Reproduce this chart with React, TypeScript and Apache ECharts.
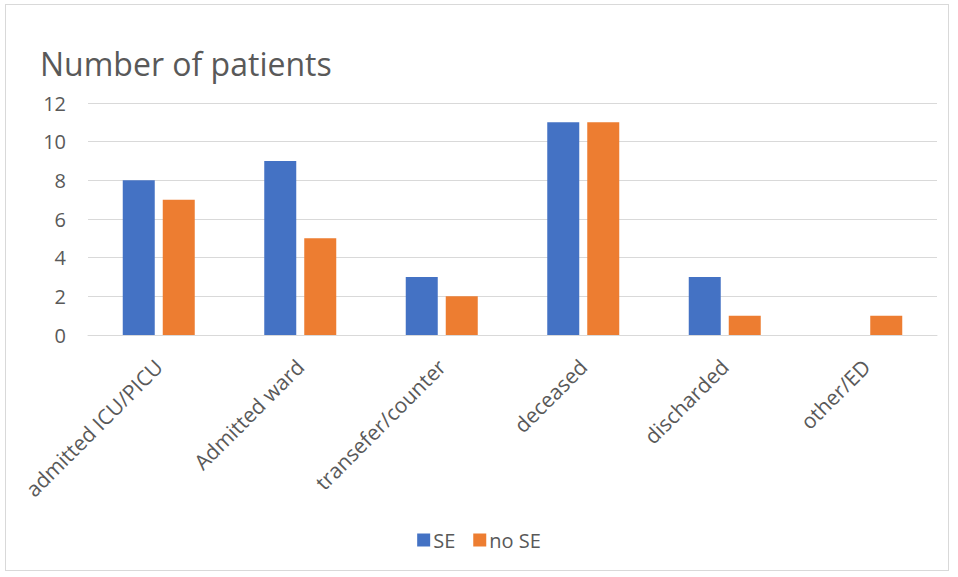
import React, { useEffect, useRef } from "react";
import * as echarts from "echarts";

const categories = ["admitted ICU/PICU", "Admitted ward", "transefer/counter", "deceased", "discharded", "other/ED"];
const seValues = [8, 9, 3, 11, 3, 0];
const noSeValues = [7, 5, 2, 11, 1, 1];
const seriesNames = ["SE", "no SE"];
const chartTitle = "Number of patients";

const FONT = "'Open Sans', sans-serif";
const TXT = "#595959";

export default function App() {
  const ref = useRef<HTMLDivElement>(null);
  useEffect(() => {
    document.body.style.margin = "0";
    const chart = echarts.init(ref.current!, null, { renderer: "svg" });
    chart.setOption({
      animation: false,
      backgroundColor: "#ffffff",
      title: {
        text: chartTitle,
        left: 35,
        top: 42,
        textStyle: { fontFamily: FONT, fontSize: 32, fontWeight: "normal", color: TXT },
      },
      grid: { left: 88, right: 21, top: 103, bottom: 242, containLabel: false },
      legend: {
        data: seriesNames,
        bottom: 22,
        left: "center",
        icon: "rect",
        itemWidth: 13,
        itemHeight: 13,
        itemGap: 18,
        itemStyle: { borderWidth: 0 },
        textStyle: { fontFamily: FONT, fontSize: 20, color: TXT, padding: [0, 0, 0, -2] },
      },
      xAxis: {
        type: "category",
        data: categories,
        axisLine: { lineStyle: { color: "#d9d9d9", width: 1 } },
        axisTick: { show: false },
        axisLabel: { rotate: 45, margin: 28, fontFamily: FONT, fontSize: 21, color: TXT, interval: 0 },
      },
      yAxis: {
        type: "value",
        min: 0,
        max: 12,
        interval: 2,
        axisLine: { show: false },
        axisTick: { show: false },
        splitLine: { lineStyle: { color: "#d9d9d9", width: 1 } },
        axisLabel: { margin: 22, fontFamily: FONT, fontSize: 20, color: TXT },
      },
      series: [
        {
          name: seriesNames[0],
          type: "bar",
          data: seValues,
          barWidth: 32,
          barGap: "25%",
          itemStyle: { color: "#4472C4" },
        },
        {
          name: seriesNames[1],
          type: "bar",
          data: noSeValues,
          barWidth: 32,
          itemStyle: { color: "#ED7D31" },
        },
      ],
    });
    return () => chart.dispose();
  }, []);
  return (
    <div style={{ position: "fixed", left: 0, top: 0, width: 958, height: 577, background: "#fff" }}>
      <div
        style={{
          position: "absolute",
          left: 5,
          top: 4,
          width: 944,
          height: 567,
          border: "1px solid #d9d9d9",
          boxSizing: "border-box",
          pointerEvents: "none",
          zIndex: 2,
        }}
      />
      <div ref={ref} style={{ position: "absolute", left: 0, top: 0, width: 958, height: 577 }} />
    </div>
  );
}
